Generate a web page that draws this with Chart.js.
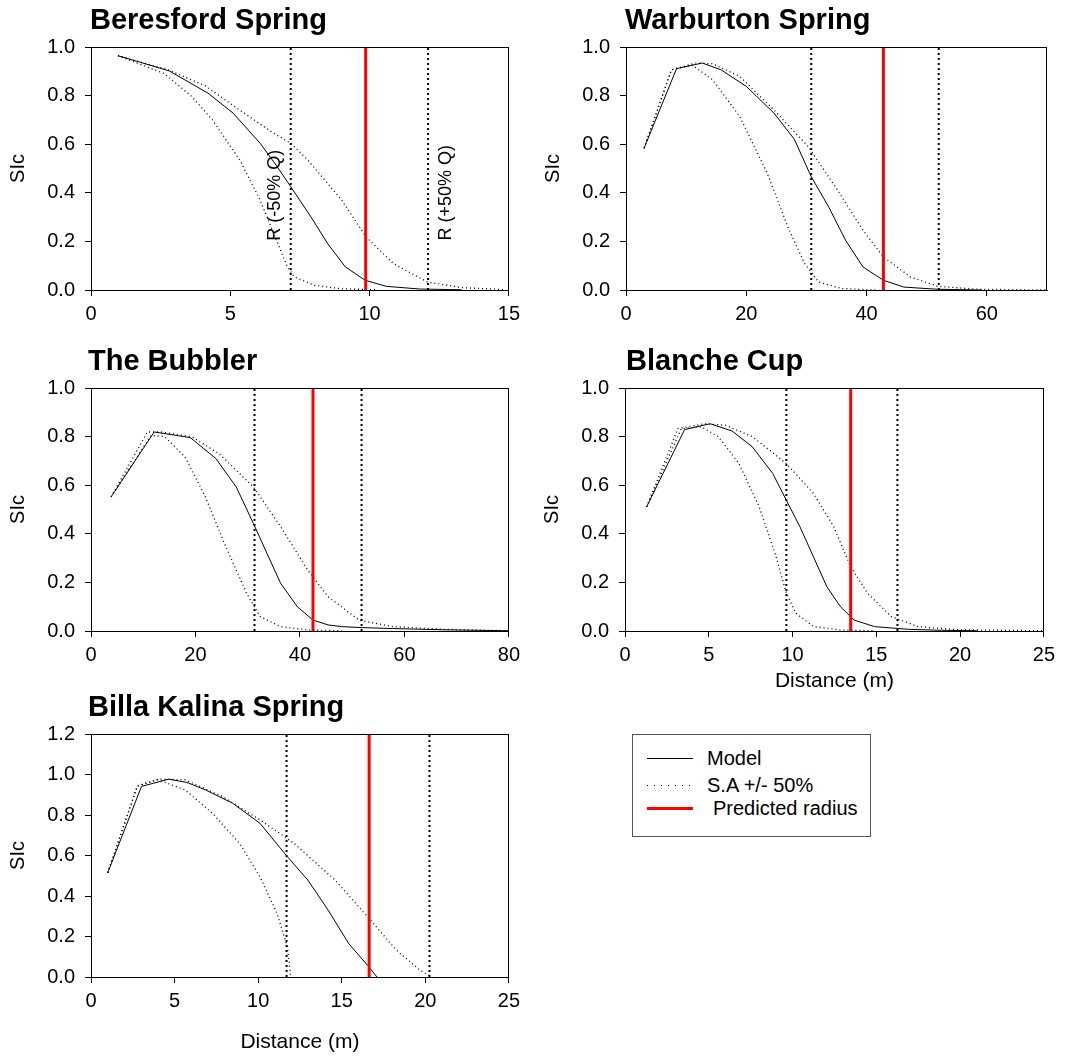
<!DOCTYPE html>
<html>
<head>
<meta charset="utf-8">
<script src="https://cdn.jsdelivr.net/npm/chart.js@4.4.0/dist/chart.umd.min.js"></script>
<style>
  body { margin: 0; background: #fff; font-family: "Liberation Sans", Arial, sans-serif; }
  .box { position: absolute; height: 370px; }
  #legend { position: absolute; left: 632px; top: 734px; width: 237px; height: 101px; border: 1px solid #555; font-size: 20px; }
  #legend .smp { position: absolute; left: 14px; width: 46px; }
  #legend .txt { position: absolute; left: 74px; line-height: 20px; white-space: nowrap; }
</style>
</head>
<body>
<div class="box" style="left:0;top:0;width:526px"><canvas id="c1"></canvas></div>
<div class="box" style="left:535px;top:0;width:526px"><canvas id="c2"></canvas></div>
<div class="box" style="left:0;top:341px;width:526px"><canvas id="c3"></canvas></div>
<div class="box" style="left:534px;top:341px;width:527px"><canvas id="c4"></canvas></div>
<div class="box" style="left:0;top:687px;width:526px;height:372px"><canvas id="c5"></canvas></div>

<div id="legend">
  <div class="smp" style="top:23px;height:1px;background:#000"></div>
  <div class="txt" style="top:13px">Model</div>
  <div class="smp" style="top:50px;height:1px;background:repeating-linear-gradient(to right,#000 0 1px,transparent 1px 7px)"></div>
  <div class="txt" style="top:40px">S.A +/- 50%</div>
  <div class="smp" style="top:72px;height:3px;background:#f00"></div>
  <div class="txt" style="top:63px;left:80px">Predicted radius</div>
</div>

<script>
// values: [distance, SIc]

// Beresford Spring
const beresfordModel = [[0.97,0.964],[2.8,0.902],[4.2,0.81],[5.1,0.728],[6.07,0.604],[6.68,0.508],[7.17,0.425],[7.9,0.30],[8.5,0.19],[9.13,0.095],[9.84,0.04],[10.6,0.015],[11.8,0.004],[13.3,0.001]];
const beresfordUpper = [[0.97,0.964],[2.8,0.905],[4.1,0.84],[5.34,0.74],[6.56,0.645],[7.17,0.604],[7.78,0.535],[9.0,0.37],[9.87,0.219],[10.85,0.109],[12.07,0.033],[13.3,0.01],[14.9,0.001]];
const beresfordLower = [[0.97,0.964],[2.64,0.89],[3.62,0.796],[4.36,0.70],[5.34,0.535],[6.07,0.37],[6.56,0.232],[7.05,0.095],[7.3,0.054],[8.03,0.019],[9.0,0.005],[10.2,0.001]];
const beresfordR = [7.17, 12.1];
const beresfordRadius = 9.86;
const beresfordXTicks = [0, 5, 10, 15];

// Warburton Spring
const warburtonModel = [[3.0,0.583],[8.4,0.911],[12.7,0.934],[15.8,0.906],[20.0,0.838],[24.6,0.728],[28.0,0.62],[30.8,0.466],[33.7,0.342],[36.5,0.205],[39.4,0.095],[42.8,0.04],[46.2,0.012],[51.8,0.003],[59.2,0.0]];
const warburtonUpper = [[3.0,0.583],[7.55,0.906],[11.5,0.934],[14.4,0.931],[18.9,0.879],[24.6,0.741],[30.3,0.59],[34.8,0.425],[39.4,0.246],[42.8,0.136],[47.3,0.054],[51.8,0.015],[58.7,0.003],[70,0.0]];
const warburtonLower = [[3.0,0.583],[7.55,0.906],[11.0,0.926],[14.4,0.865],[18.9,0.714],[23.5,0.48],[26.9,0.26],[29.7,0.109],[32.0,0.033],[35.9,0.006],[41.6,0.0]];
const warburtonR = [30.8, 52.0];
const warburtonRadius = 42.8;
const warburtonXTicks = [0, 20, 40, 60];

// The Bubbler
const bubblerModel = [[3.85,0.552],[12.1,0.819],[19.0,0.796],[23.9,0.71],[27.8,0.593],[31.1,0.442],[33.7,0.319],[36.3,0.196],[39.5,0.10],[42.5,0.045],[45.4,0.025],[48.0,0.018],[51.9,0.014],[57.8,0.01],[67.6,0.005],[80,0.001]];
const bubblerUpper = [[3.85,0.552],[10.8,0.819],[13.4,0.819],[19.3,0.799],[24.5,0.73],[31.1,0.593],[36.3,0.429],[41.5,0.25],[45.4,0.141],[51.3,0.045],[57.8,0.018],[67.6,0.007],[80,0.001]];
const bubblerLower = [[3.85,0.552],[11.5,0.805],[14.1,0.80],[18.0,0.716],[21.9,0.552],[25.8,0.347],[29.8,0.155],[32.4,0.059],[36.3,0.018],[41.5,0.004],[48,0.001]];
const bubblerR = [31.3, 51.8];
const bubblerRadius = 42.5;
const bubblerXTicks = [0, 20, 40, 60, 80];

// Blanche Cup
const blancheModel = [[1.29,0.511],[3.56,0.829],[5.08,0.853],[6.39,0.823],[7.6,0.758],[8.82,0.648],[9.63,0.538],[10.44,0.429],[11.25,0.305],[12.05,0.182],[12.86,0.10],[13.67,0.045],[14.9,0.018],[16.9,0.007],[18.9,0.003],[21,0.001]];
const blancheUpper = [[1.29,0.511],[3.16,0.833],[4.77,0.853],[5.99,0.847],[7.6,0.80],[9.63,0.689],[11.25,0.566],[12.46,0.429],[13.47,0.264],[14.48,0.155],[15.9,0.059],[17.5,0.018],[19.9,0.005],[25,0.001]];
const blancheLower = [[1.29,0.511],[3.36,0.833],[4.57,0.84],[5.58,0.799],[6.8,0.689],[8.01,0.511],[9.02,0.305],[9.63,0.155],[10.2,0.073],[11.25,0.018],[12.9,0.004],[14.9,0.001]];
const blancheR = [9.63, 16.26];
const blancheRadius = 13.47;
const blancheXTicks = [0, 5, 10, 15, 20, 25];

// Billa Kalina Spring
const billaModel = [[1.0,0.515],[3.02,0.941],[4.65,0.977],[5.73,0.961],[6.85,0.924],[8.48,0.858],[10.11,0.759],[11.75,0.594],[12.97,0.479],[14.19,0.330],[15.42,0.165],[16.54,0.058],[17.11,0.0]];
const billaUpper = [[1.0,0.515],[2.77,0.944],[4.0,0.977],[5.63,0.974],[7.87,0.891],[10.11,0.776],[12.15,0.66],[14.6,0.479],[16.64,0.289],[18.27,0.132],[19.7,0.033],[20.4,0.0]];
const billaLower = [[1.0,0.515],[2.77,0.941],[4.0,0.974],[5.63,0.924],[7.26,0.809],[8.89,0.66],[10.11,0.495],[11.13,0.314],[11.75,0.149],[11.95,0.0]];
const billaR = [11.7, 20.25];
const billaRadius = 16.64;
const billaXTicks = [0, 5, 10, 15, 20, 25];

const FONT = '"Liberation Sans", Arial, sans-serif';
const PLOT_TOP = 47;
const PLOT_H = 243;
const AXIS_W = 91;

// frame, panel title and rotated notes
const framePlugin = {
  id: 'frame',
  afterDraw(chart, args, opts) {
    const { ctx, chartArea: a, scales } = chart;
    ctx.save();
    ctx.strokeStyle = '#000';
    ctx.lineWidth = 1;
    ctx.strokeRect(Math.round(a.left) + 0.5, Math.round(a.top) + 0.5, Math.round(a.width) - 1, Math.round(a.height));
    ctx.fillStyle = '#000';
    ctx.font = 'bold 29px ' + FONT;
    ctx.textAlign = 'left';
    ctx.textBaseline = 'alphabetic';
    ctx.fillText(opts.title, a.left + (opts.titleDx || 0), a.top - 18);
    ctx.font = '18px ' + FONT;
    (opts.notes || []).forEach(n => {
      ctx.save();
      ctx.translate(scales.x.getPixelForValue(n.x), scales.y.getPixelForValue(n.y));
      ctx.rotate(-Math.PI / 2);
      ctx.textAlign = 'center';
      ctx.textBaseline = 'middle';
      ctx.fillText(n.text, 0, 0);
      ctx.restore();
    });
    ctx.restore();
  }
};

const pts = arr => arr.map(p => ({ x: p[0], y: p[1] }));
const vline = (x, top) => [{ x: x, y: 0 }, { x: x, y: top }];

function makeChart(id, c) {
  const canvas = document.getElementById(id);
  const boxH = canvas.parentNode.clientHeight;
  const datasets = [
    { data: vline(c.radius, c.yMax), borderColor: '#ff0000', borderWidth: 3 },
    { data: pts(c.model), borderColor: '#000', borderWidth: 1 },
    { data: pts(c.upper), borderColor: '#000', borderWidth: 1.3, borderDash: [1, 3] },
    { data: pts(c.lower), borderColor: '#000', borderWidth: 1.3, borderDash: [1, 3] },
  ];
  c.r.forEach(v => datasets.push({ data: vline(v, c.yMax), borderColor: '#000', borderWidth: 2, borderDash: [2, 3] }));
  datasets.forEach(d => { d.pointRadius = 0; d.fill = false; d.tension = 0; });

  new Chart(canvas, {
    type: 'line',
    data: { datasets },
    plugins: [framePlugin],
    options: {
      responsive: true,
      maintainAspectRatio: false,
      animation: false,
      layout: { padding: { top: PLOT_TOP, right: 14, left: 0, bottom: 0 } },
      plugins: {
        legend: { display: false },
        tooltip: { enabled: false },
        frame: { title: c.title, notes: c.notes, titleDx: c.titleDx },
      },
      scales: {
        x: {
          type: 'linear',
          min: 0, max: c.xMax,
          afterBuildTicks: s => { s.ticks = c.xTicks.map(v => ({ value: v })); },
          afterFit: s => { s.height = boxH - PLOT_TOP - PLOT_H; },
          ticks: { color: '#000', font: { family: FONT, size: 20 }, padding: 6, maxRotation: 0, autoSkip: false },
          grid: { drawOnChartArea: false, drawTicks: true, tickLength: 6, color: '#000' },
          border: { display: true, color: '#000' },
          title: { display: !!c.xTitle, text: 'Distance (m)', color: '#000', font: { family: FONT, size: 21 }, padding: { top: 0, bottom: c.xTitlePad || 0 } },
        },
        y: {
          min: 0, max: c.yMax,
          afterFit: s => { s.width = AXIS_W; },
          ticks: { stepSize: 0.2, color: '#000', font: { family: FONT, size: 20 }, padding: 10, callback: v => v.toFixed(1) },
          grid: { drawOnChartArea: false, drawTicks: true, tickLength: 6, color: '#000' },
          border: { display: true, color: '#000' },
          title: { display: true, text: 'SIc', color: '#000', font: { family: FONT, size: 20 }, padding: { top: 6, bottom: 0 } },
        },
      },
    },
  });
}

makeChart('c1', { title: 'Beresford Spring', model: beresfordModel, upper: beresfordUpper, lower: beresfordLower, r: beresfordR, radius: beresfordRadius, xMax: 15, xTicks: beresfordXTicks, yMax: 1.0, titleDx: -1,
  notes: [{ x: 6.62, y: 0.39, text: 'R (-50% Q)' }, { x: 12.73, y: 0.40, text: 'R (+50% Q)' }] });
makeChart('c2', { title: 'Warburton Spring', model: warburtonModel, upper: warburtonUpper, lower: warburtonLower, r: warburtonR, radius: warburtonRadius, xMax: 70, xTicks: warburtonXTicks, yMax: 1.0, titleDx: -1 });
makeChart('c3', { title: 'The Bubbler', model: bubblerModel, upper: bubblerUpper, lower: bubblerLower, r: bubblerR, radius: bubblerRadius, xMax: 80, xTicks: bubblerXTicks, yMax: 1.0, titleDx: -3 });
makeChart('c4', { title: 'Blanche Cup', model: blancheModel, upper: blancheUpper, lower: blancheLower, r: blancheR, radius: blancheRadius, xMax: 25, xTicks: blancheXTicks, yMax: 1.0, titleDx: 1, xTitle: true, xTitlePad: 17 });
makeChart('c5', { title: 'Billa Kalina Spring', model: billaModel, upper: billaUpper, lower: billaLower, r: billaR, radius: billaRadius, xMax: 25, xTicks: billaXTicks, yMax: 1.2, titleDx: -3, xTitle: true, xTitlePad: 4 });
</script>
</body>
</html>
